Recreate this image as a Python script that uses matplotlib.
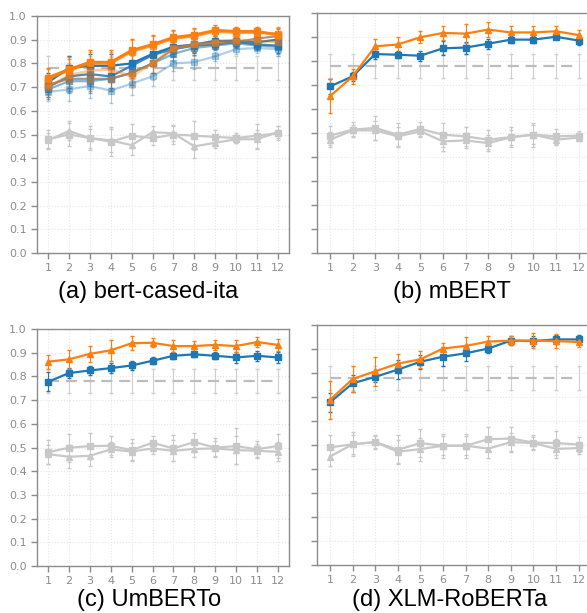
import numpy as np
import matplotlib
matplotlib.use("Agg")
import matplotlib.pyplot as plt

layers = np.arange(1, 13)
baseline = 0.78
baseline_err = 0.05

# (a) bert-cased-ita: several runs per probe
a_orange = [
    [0.74, 0.775, 0.805, 0.805, 0.855, 0.88, 0.91, 0.92, 0.94, 0.935, 0.935, 0.92],
    [0.735, 0.77, 0.80, 0.80, 0.85, 0.875, 0.905, 0.915, 0.935, 0.93, 0.93, 0.925],
    [0.70, 0.75, 0.77, 0.775, 0.745, 0.80, 0.865, 0.88, 0.89, 0.90, 0.895, 0.89],
]
a_brown = [0.71, 0.735, 0.735, 0.735, 0.76, 0.80, 0.86, 0.88, 0.885, 0.89, 0.905, 0.915]
a_blue = [
    [0.72, 0.78, 0.79, 0.79, 0.80, 0.84, 0.87, 0.88, 0.895, 0.895, 0.89, 0.90],
    [0.70, 0.745, 0.755, 0.745, 0.79, 0.835, 0.86, 0.875, 0.88, 0.89, 0.88, 0.875],
    [0.69, 0.725, 0.725, 0.735, 0.76, 0.80, 0.84, 0.865, 0.875, 0.885, 0.875, 0.87],
    [0.68, 0.69, 0.705, 0.685, 0.715, 0.745, 0.80, 0.805, 0.83, 0.86, 0.865, 0.86],
]
a_gray1 = [0.48, 0.50, 0.485, 0.47, 0.495, 0.485, 0.50, 0.495, 0.49, 0.485, 0.495, 0.505]
a_gray2 = [0.475, 0.515, 0.485, 0.475, 0.455, 0.51, 0.505, 0.45, 0.465, 0.48, 0.48, 0.51]
a_err = [0.04, 0.05, 0.05, 0.05, 0.05, 0.04, 0.03, 0.03, 0.02, 0.02, 0.02, 0.03]
a_gray_err = [0.04, 0.05, 0.05, 0.06, 0.05, 0.03, 0.04, 0.06, 0.03, 0.02, 0.05, 0.03]

# (b) mBERT
b_blue = [0.694, 0.736, 0.829, 0.826, 0.822, 0.853, 0.856, 0.872, 0.889, 0.889, 0.901, 0.885]
b_orange = [0.653, 0.736, 0.861, 0.869, 0.899, 0.917, 0.914, 0.931, 0.919, 0.919, 0.924, 0.908]
b_gray1 = [0.489, 0.514, 0.521, 0.493, 0.517, 0.493, 0.486, 0.472, 0.483, 0.493, 0.486, 0.489]
b_gray2 = [0.472, 0.511, 0.511, 0.486, 0.507, 0.465, 0.469, 0.458, 0.482, 0.493, 0.472, 0.481]
b_blue_err = [0.03, 0.02, 0.02, 0.015, 0.02, 0.03, 0.025, 0.02, 0.015, 0.015, 0.01, 0.02]
b_orange_err = [0.07, 0.03, 0.03, 0.03, 0.025, 0.03, 0.04, 0.03, 0.025, 0.025, 0.02, 0.02]
b_gray_err = [0.04, 0.03, 0.05, 0.05, 0.03, 0.05, 0.04, 0.04, 0.04, 0.05, 0.03, 0.02]

# (c) UmBERTo
c_blue = [0.777, 0.814, 0.825, 0.835, 0.846, 0.866, 0.887, 0.893, 0.887, 0.880, 0.887, 0.880]
c_orange = [0.862, 0.872, 0.895, 0.91, 0.94, 0.942, 0.928, 0.928, 0.933, 0.928, 0.945, 0.933]
c_gray1 = [0.48, 0.499, 0.506, 0.507, 0.489, 0.52, 0.496, 0.523, 0.499, 0.506, 0.492, 0.507]
c_gray2 = [0.472, 0.461, 0.465, 0.492, 0.483, 0.496, 0.486, 0.494, 0.496, 0.489, 0.486, 0.482]
c_blue_err = [0.04, 0.02, 0.02, 0.02, 0.02, 0.015, 0.015, 0.01, 0.015, 0.025, 0.02, 0.025]
c_orange_err = [0.03, 0.04, 0.035, 0.045, 0.03, 0.02, 0.025, 0.02, 0.02, 0.025, 0.02, 0.025]
c_gray_err = [0.05, 0.06, 0.055, 0.04, 0.045, 0.03, 0.055, 0.04, 0.04, 0.075, 0.035, 0.05]

# (d) XLM-RoBERTa
d_blue = [0.678, 0.757, 0.784, 0.814, 0.847, 0.868, 0.882, 0.902, 0.935, 0.933, 0.940, 0.940]
d_orange = [0.688, 0.775, 0.807, 0.839, 0.857, 0.902, 0.913, 0.931, 0.935, 0.935, 0.933, 0.929]
d_gray1 = [0.49, 0.503, 0.512, 0.48, 0.508, 0.497, 0.497, 0.524, 0.527, 0.51, 0.508, 0.502]
d_gray2 = [0.452, 0.503, 0.512, 0.472, 0.483, 0.497, 0.497, 0.485, 0.512, 0.508, 0.484, 0.487]
d_blue_err = [0.04, 0.035, 0.02, 0.04, 0.03, 0.04, 0.03, 0.02, 0.02, 0.02, 0.02, 0.02]
d_orange_err = [0.08, 0.055, 0.06, 0.04, 0.035, 0.025, 0.035, 0.025, 0.02, 0.03, 0.03, 0.02]
d_gray_err = [0.05, 0.05, 0.03, 0.06, 0.06, 0.05, 0.05, 0.05, 0.05, 0.03, 0.05, 0.03]

titles = ["(a) bert-cased-ita", "(b) mBERT", "(c) UmBERTo", "(d) XLM-RoBERTa"]

BLUE = "#1f77b4"
ORANGE = "#ff7f0e"
GRAY = "#c8c8c8"
TXT = "#8c8c8c"

fig = plt.figure(figsize=(5.87, 6.13), dpi=100)

W, H = 587.0, 613.0
# axes boxes in pixels: left, top, right, bottom
boxes = [(37, 16, 289, 253), (317, 13, 590, 253),
         (37, 329, 289, 566), (317, 325, 590, 565)]
xlims = [(0.474, 12.53), (0.425, 12.5), (0.474, 12.53), (0.425, 12.5)]
title_pos = [(148, 292), (452, 292), (149, 600), (450, 600)]


def style_axis(ax, xl, show_y):
    ax.set_xlim(*xl)
    ax.set_ylim(0, 1.0)
    ax.set_xticks(layers)
    ax.set_yticks(np.arange(0, 1.01, 0.1))
    ax.set_yticklabels([f"{v:.1f}" for v in np.arange(0, 1.01, 0.1)] if show_y else [])
    ax.grid(True, color="#e6e6e6", linestyle=":", linewidth=0.8)
    ax.set_axisbelow(True)
    for s in ax.spines.values():
        s.set_color("#8c8c8c")
        s.set_linewidth(1.0)
    ax.tick_params(colors=TXT, labelcolor=TXT, labelsize=8, length=4, width=1, direction="out")


def draw_baseline(ax):
    ax.errorbar(layers, [baseline] * 12, yerr=baseline_err, color="#bdbdbd", linestyle="--",
                dashes=(5, 3), linewidth=1.6, elinewidth=0.8, capsize=1.5, ecolor="#d0d0d0", zorder=2)


def draw_gray(ax, g1, g2, err):
    ax.errorbar(layers, g1, yerr=err, color=GRAY, marker="s", markersize=4, linewidth=1.6,
                elinewidth=0.7, capsize=1.5, zorder=3)
    ax.errorbar(layers, g2, yerr=np.array(err) * 0.8, color=GRAY, marker="^", markersize=4,
                linewidth=1.6, elinewidth=0.7, capsize=1.5, zorder=3)


def draw_main(ax, vals, err, color, marker, alpha=1.0, lw=1.6):
    ax.errorbar(layers, vals, yerr=err, color=color, marker=marker, markersize=4, linewidth=lw,
                elinewidth=0.8, capsize=1.5, alpha=alpha, zorder=4)


axes = []
for i, (l, t, r, b) in enumerate(boxes):
    ax = fig.add_axes([l / W, (H - b) / H, (r - l) / W, (b - t) / H])
    style_axis(ax, xlims[i], i % 2 == 0)
    axes.append(ax)

# (a)
ax = axes[0]
draw_baseline(ax)
draw_gray(ax, a_gray1, a_gray2, a_gray_err)
blue_alphas = [1.0, 0.85, 0.55, 0.35]
for vals, al in zip(a_blue, blue_alphas):
    draw_main(ax, vals, a_err, BLUE, "s", alpha=al)
draw_main(ax, a_brown, a_err, "#9a7b5f", "s", alpha=0.8)
orange_alphas = [1.0, 0.75, 0.4]
for vals, al in zip(a_orange, orange_alphas):
    draw_main(ax, vals, a_err, ORANGE, "s", alpha=al, lw=2.0)

# (b)-(d)
panel_data = [
    (b_blue, b_blue_err, b_orange, b_orange_err, b_gray1, b_gray2, b_gray_err),
    (c_blue, c_blue_err, c_orange, c_orange_err, c_gray1, c_gray2, c_gray_err),
    (d_blue, d_blue_err, d_orange, d_orange_err, d_gray1, d_gray2, d_gray_err),
]
for ax, (bl, ble, orr, ore, g1, g2, ge) in zip(axes[1:], panel_data):
    draw_baseline(ax)
    draw_gray(ax, g1, g2, ge)
    draw_main(ax, bl, ble, BLUE, "s")
    draw_main(ax, orr, ore, ORANGE, "^")

for (x, y), t in zip(title_pos, titles):
    fig.text(x / W, (H - y) / H, t, ha="center", va="center", fontsize=17,
             family="Liberation Sans", color="black")

fig.savefig("out.png", dpi=100)
